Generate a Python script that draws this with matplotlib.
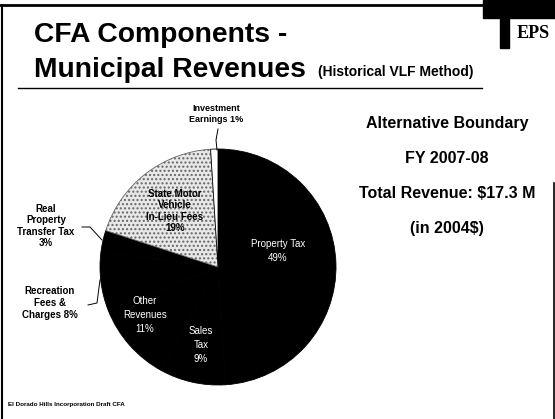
import matplotlib.pyplot as plt
from matplotlib.patches import Rectangle

# pie data, clockwise from 12 o'clock
labels = ['Property Tax\n49%', 'Sales\nTax\n9%', 'Other\nRevenues\n11%',
          'Recreation\nFees &\nCharges 8%', 'Real\nProperty\nTransfer Tax\n3%',
          'State Motor\nVehicle\nIn-Lieu Fees\n19%', 'Investment\nEarnings 1%']
shares = [49, 9, 11, 8, 3, 19, 1]
colors = ['black', 'black', 'black', 'black', 'black', '#e8e8e8', 'white']

info_lines = ['Alternative Boundary', 'FY 2007-08', 'Total Revenue: $17.3 M', '(in 2004$)']

plt.rcParams['font.family'] = ['Liberation Sans', 'DejaVu Sans']

W, H = 555, 419
fig = plt.figure(figsize=(W / 100, H / 100), dpi=100)

# pie centre (218, 267) px, radius 118 px
cx, cy, r = 218, 267, 118
pax = fig.add_axes([(cx - r) / W, (H - cy - r) / H, 2 * r / W, 2 * r / H])
wedges, _ = pax.pie(shares, colors=colors, startangle=90, counterclock=False,
                    wedgeprops=dict(edgecolor='black', linewidth=0.6))
wedges[5].set_hatch('....')
wedges[5].set_edgecolor('#666666')
pax.set_xlim(-1, 1)
pax.set_ylim(-1, 1)

# overlay in pixel coords for all the text
ax = fig.add_axes([0, 0, 1, 1], facecolor='none')
ax.set_xlim(0, W)
ax.set_ylim(H, 0)
ax.axis('off')

# frame lines
ax.plot([0, 483], [5, 5], color='black', lw=2)
ax.plot([2, 2], [5, H], color='black', lw=1.5)
ax.plot([554, 554], [183, H], color='black', lw=1.2)
ax.plot([18, 482], [88, 88], color='black', lw=1)
ax.add_patch(Rectangle((483, 0), 72, 18, color='black'))
ax.add_patch(Rectangle((500, 18), 9, 30, color='black'))
ax.text(533, 34, 'EPS', fontsize=13, fontweight='bold', family='Liberation Serif',
        ha='center', va='center', color='black')

# title
ax.text(34, 35, 'CFA Components -', fontsize=20.3, fontweight='bold', va='center')
ax.text(34, 70, 'Municipal Revenues', fontsize=20.3, fontweight='bold', va='center')
ax.text(318, 72, '(Historical VLF Method)', fontsize=10, fontweight='bold', va='center')

# right-hand notes
for i, line in enumerate(info_lines):
    ax.text(447, 123 + i * 35, line, fontsize=11.5, fontweight='bold',
            ha='center', va='center')

# slice labels
ax.text(278, 251, labels[0], fontsize=7, color='white', ha='center', va='center',
        linespacing=1.5)
ax.text(201, 345, labels[1], fontsize=7, color='white', ha='center', va='center',
        linespacing=1.5)
ax.text(145, 315, labels[2], fontsize=7, color='white', ha='center', va='center',
        linespacing=1.5)
ax.text(175, 211, labels[5], fontsize=7, fontweight='bold', ha='center',
        va='center', linespacing=1.2)
ax.text(46, 226, labels[4], fontsize=7, fontweight='bold', ha='center',
        va='center', linespacing=1.2)
ax.text(50, 303, labels[3], fontsize=7, fontweight='bold', ha='center',
        va='center', linespacing=1.3)
ax.text(216, 114, labels[6], fontsize=6.5, fontweight='bold', ha='center',
        va='center', linespacing=1.2)

# leader lines
ax.plot([82, 90, 102], [227, 227, 240], color='black', lw=0.7)
ax.plot([88, 97, 100], [305, 303, 280], color='black', lw=0.7)
ax.plot([218, 216, 217], [129, 140, 150], color='black', lw=0.7)

# footer
ax.text(8, 404, 'El Dorado Hills Incorporation Draft CFA', fontsize=4.5,
        fontweight='bold', va='center')

fig.savefig('out.png', dpi=100)
